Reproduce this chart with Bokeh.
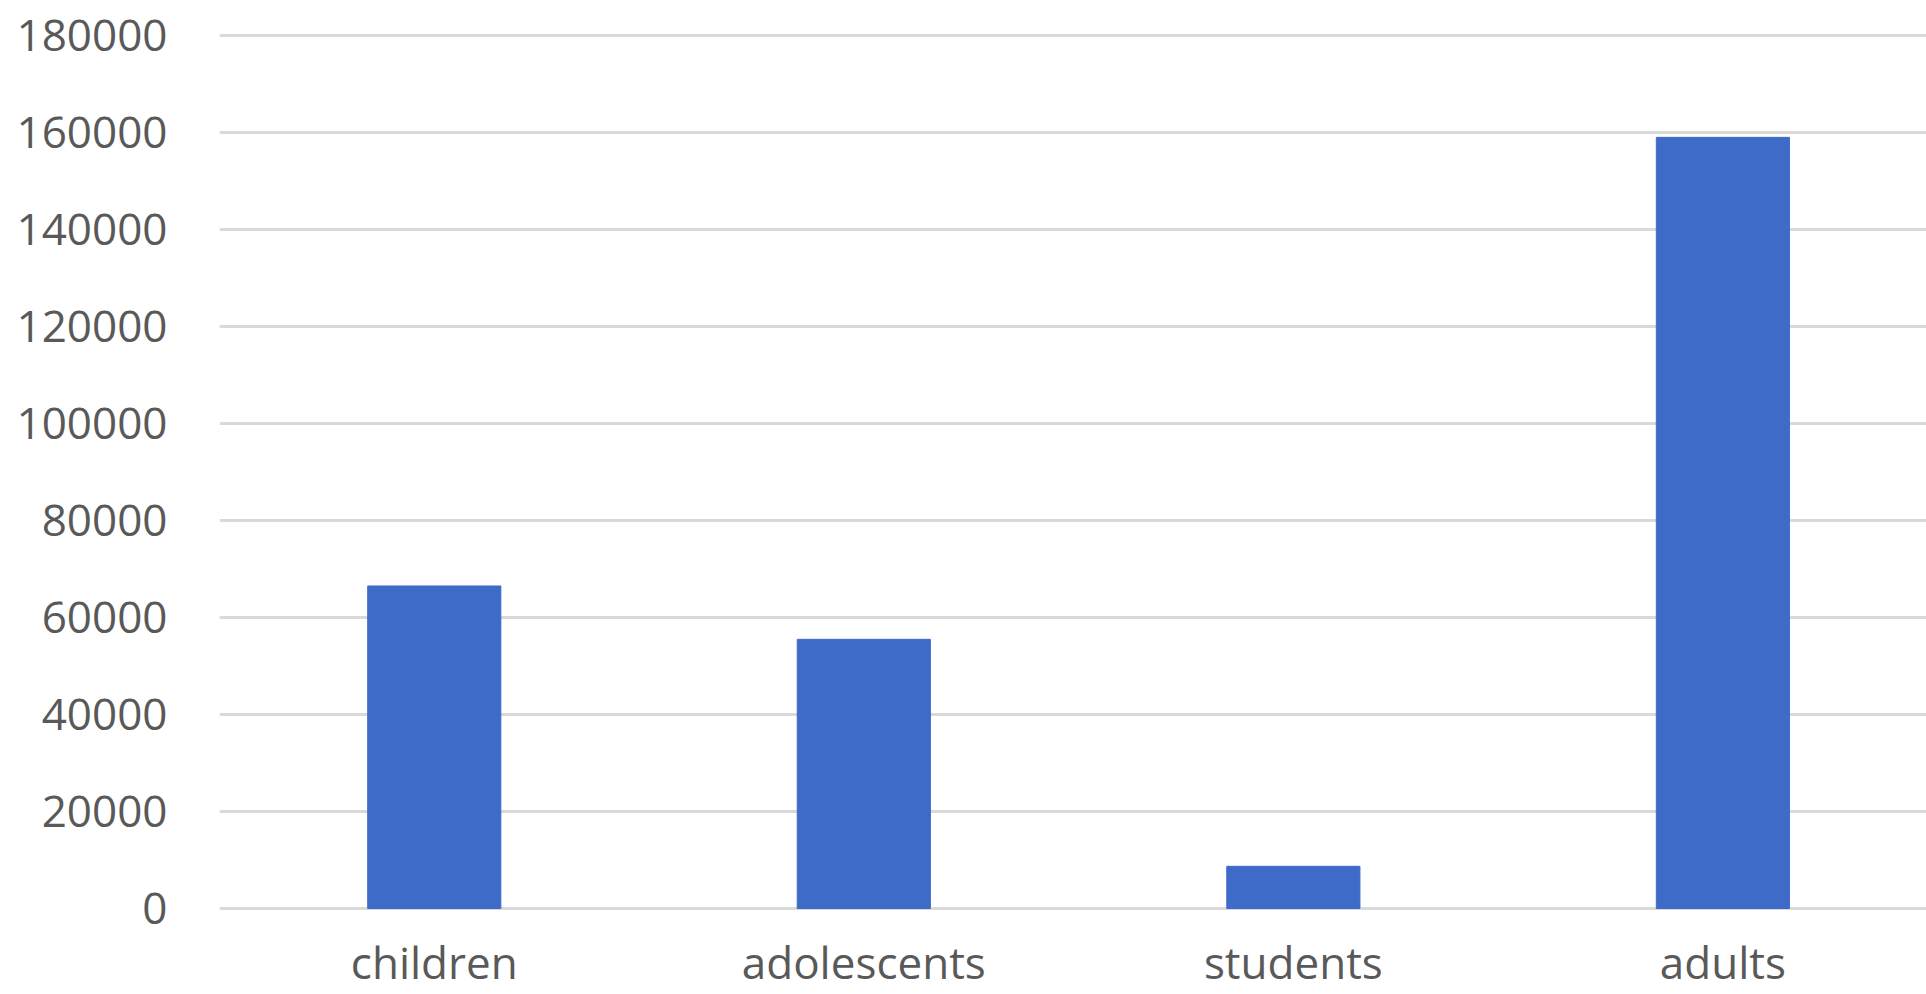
from bokeh.plotting import figure
from bokeh.models import Range1d, FixedTicker, NumeralTickFormatter, ColumnDataSource
from bokeh.embed import file_html
from bokeh.resources import INLINE

categories = ["children", "adolescents", "students", "adults"]
values = [66500, 55500, 8700, 159000]
y_ticks = [0, 20000, 40000, 60000, 80000, 100000, 120000, 140000, 160000, 180000]

positions = list(range(len(categories)))
src = ColumnDataSource(dict(x=positions, top=values))

p = figure(width=1926, height=994, output_backend="svg", toolbar_location=None,
           x_range=Range1d(-0.5, 3.474), y_range=Range1d(-3505, 183093),
           min_border_left=219, min_border_right=0, min_border_top=20, min_border_bottom=0)
p.outline_line_color = None
p.background_fill_color = "white"
p.border_fill_color = "white"

p.vbar(x="x", top="top", bottom=0, width=0.31, source=src, color="#3F6BC8")

p.xgrid.grid_line_color = None
p.ygrid.grid_line_color = "#D9D9D9"
p.ygrid.grid_line_width = 3
p.ygrid.ticker = FixedTicker(ticks=y_ticks)
p.ygrid.level = "underlay"

p.yaxis.ticker = FixedTicker(ticks=y_ticks)
p.yaxis.formatter = NumeralTickFormatter(format="0")
p.xaxis.ticker = FixedTicker(ticks=positions)
p.xaxis.major_label_overrides = {i: c for i, c in zip(positions, categories)}

for ax in (p.xaxis, p.yaxis):
    ax.axis_line_color = None
    ax.major_tick_line_color = None
    ax.minor_tick_line_color = None
    ax.major_tick_out = 0
    ax.major_tick_in = 0
    ax.major_label_text_font = "Open Sans"
    ax.major_label_text_font_size = "44px"
    ax.major_label_text_color = "#595959"

p.yaxis.major_label_standoff = 52
p.xaxis.major_label_standoff = 6

open("out.html", "w").write(file_html(p, INLINE))
